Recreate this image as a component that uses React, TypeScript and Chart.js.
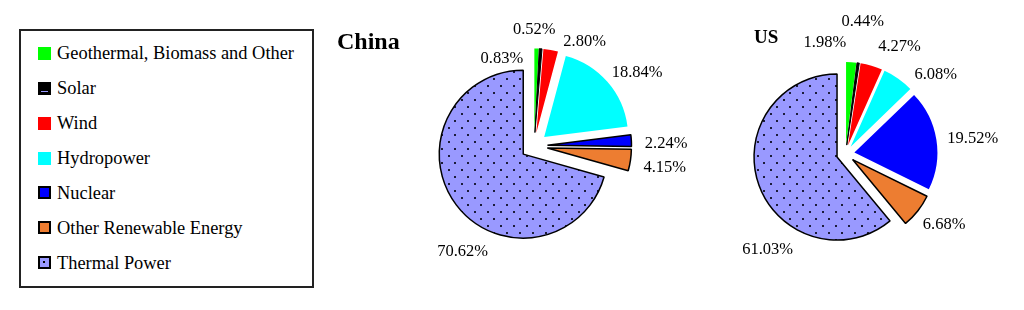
import React, { useEffect, useRef } from 'react';
import { Chart, registerables } from 'chart.js';

Chart.register(...registerables);

// ---------- data ----------
const categories = [
  'Geothermal, Biomass and Other',
  'Solar',
  'Wind',
  'Hydropower',
  'Nuclear',
  'Other Renewable Energy',
  'Thermal Power',
];
const chinaShares = [0.83, 0.52, 2.8, 18.84, 2.24, 4.15, 70.62];
const usShares = [1.98, 0.44, 4.27, 6.08, 19.52, 6.68, 61.03];
const chinaTitle = 'China';
const usTitle = 'US';

// ---------- styles ----------
const sliceColors = ['#00FF00', '#000000', '#FF0000', '#00FFFF', '#0000FF', '#ED7D31'];
const thermalColor = '#9999FF';
const chinaBorderWidths = [0, 1, 0, 0, 1.5, 1.5, 1.5];
const usBorderWidths = [0, 1, 0, 0, 0, 1.5, 1.5];
// label adjustments (px) relative to the automatic outside-end placement
const chinaLabelNudges = [[-36, 23.5], [-10, -6], [25, 5], [-2.5, 1], [4.5, 3], [4, 3], [39, 35]];
const usLabelNudges = [[-29.5, -6], [-2.5, -28], [13.5, -6], [11, 7.5], [2, 1], [-2, 1.5], [42.5, 56.5]];

const SERIF = '"Liberation Serif", "Times New Roman", serif';

function makeDotPattern(): any {
  const c = document.createElement('canvas');
  c.width = 13;
  c.height = 14;
  const g = c.getContext('2d');
  if (!g) return thermalColor;
  g.fillStyle = thermalColor;
  g.fillRect(0, 0, 13, 14);
  g.fillStyle = '#1c1c3a';
  g.fillRect(1, 1, 2, 2);
  g.fillRect(7, 8, 2, 2);
  return g.createPattern(c, 'repeat') || thermalColor;
}

const explodePlugin = {
  id: 'explode',
  beforeDatasetsDraw(chart: any, _a: any, opts: any) {
    const meta = chart.getDatasetMeta(0);
    const d = opts.distance || 0;
    meta.data.forEach((arc: any) => {
      const mid = (arc.startAngle + arc.endAngle) / 2;
      arc.$base = [arc.x, arc.y];
      arc.x += Math.cos(mid) * d;
      arc.y += Math.sin(mid) * d;
    });
  },
  afterDatasetsDraw(chart: any) {
    const meta = chart.getDatasetMeta(0);
    meta.data.forEach((arc: any) => {
      if (arc.$base) {
        arc.x = arc.$base[0];
        arc.y = arc.$base[1];
        delete arc.$base;
      }
    });
  },
};

const sliceLabelPlugin = {
  id: 'sliceLabels',
  afterDraw(chart: any, _a: any, opts: any) {
    const ctx = chart.ctx;
    const meta = chart.getDatasetMeta(0);
    const values = chart.data.datasets[0].data;
    const fs = opts.fontSize;
    ctx.save();
    ctx.font = `${fs}px ${SERIF}`;
    ctx.fillStyle = '#000';
    ctx.textAlign = 'center';
    ctx.textBaseline = 'alphabetic';
    const h = fs * 0.676;
    const clamp = (v: number) => Math.max(-1, Math.min(1, 2 * v));
    meta.data.forEach((arc: any, i: number) => {
      const text = Number(values[i]).toFixed(2) + '%';
      const w = ctx.measureText(text).width;
      const mid = (arc.startAngle + arc.endAngle) / 2;
      const ux = Math.cos(mid);
      const uy = Math.sin(mid);
      const dist = arc.outerRadius + opts.explode + opts.gap;
      const n = opts.nudges[i] || [0, 0];
      const cx = arc.x + ux * dist + (w / 2) * clamp(ux) + n[0];
      const cy = arc.y + uy * dist + (h / 2) * clamp(uy) + n[1];
      ctx.fillText(text, cx, cy + h / 2);
    });
    // title
    ctx.font = `bold ${opts.titleSize}px ${SERIF}`;
    ctx.textAlign = 'left';
    ctx.fillText(opts.title, opts.titleX, opts.titleY);
    ctx.restore();
  },
};

type PieProps = {
  values: number[];
  title: string;
  left: number;
  width: number;
  height: number;
  padding: { left: number; right: number; top: number; bottom: number };
  radius: number;
  explode: number;
  borderWidths: number[];
  nudges: number[][];
  titleX: number;
  titleY: number;
  titleSize: number;
};

function Pie(p: PieProps) {
  const ref = useRef<HTMLCanvasElement | null>(null);
  useEffect(() => {
    if (!ref.current) return;
    const pattern = makeDotPattern();
    const chart = new Chart(ref.current, {
      type: 'pie',
      data: {
        labels: categories,
        datasets: [
          {
            data: p.values,
            backgroundColor: [...sliceColors, pattern],
            borderColor: '#000000',
            borderWidth: p.borderWidths,
            hoverOffset: 0,
            offset: 0,
          } as any,
        ],
      },
      options: {
        responsive: false,
        maintainAspectRatio: false,
        animation: false,
        events: [],
        radius: p.radius,
        layout: { padding: p.padding },
        plugins: {
          legend: { display: false },
          tooltip: { enabled: false },
          title: { display: false },
          explode: { distance: p.explode },
          sliceLabels: {
            fontSize: 16.5,
            explode: p.explode,
            gap: 9,
            nudges: p.nudges,
            title: p.title,
            titleX: p.titleX,
            titleY: p.titleY,
            titleSize: p.titleSize,
          },
        } as any,
      } as any,
      plugins: [explodePlugin, sliceLabelPlugin],
    });
    return () => chart.destroy();
  }, []);
  return (
    <canvas
      ref={ref}
      width={p.width}
      height={p.height}
      style={{ position: 'absolute', left: p.left, top: 0, width: p.width, height: p.height }}
    />
  );
}

const swatchStyles: React.CSSProperties[] = [
  { background: '#00FF00' },
  { background: '#000000', border: '2px solid #000' },
  { background: '#FF0000' },
  { background: '#00FFFF' },
  { background: '#0000FF', border: '2px solid #000' },
  { background: '#ED7D31', border: '2px solid #000' },
  { background: thermalColor, border: '2px solid #000' },
];

function Legend() {
  const boxLeft = 19;
  const boxTop = 29;
  return (
    <div
      style={{
        position: 'absolute',
        left: boxLeft,
        top: boxTop,
        width: 295,
        height: 259,
        boxSizing: 'border-box',
        border: '2px solid #222',
        background: '#fff',
      }}
    >
      {categories.map((c, i) => {
        const cy = 53.3 + i * 34.9 - boxTop - 2;
        return (
          <React.Fragment key={c}>
            <div
              style={{
                position: 'absolute',
                left: 38 - boxLeft - 2,
                top: cy - 6.5,
                width: 13,
                height: 13,
                boxSizing: 'border-box',
                ...swatchStyles[i],
              }}
            >
              {i === 1 ? (
                <div style={{ position: 'absolute', left: 1, top: 7, width: 7, height: 1, background: thermalColor }} />
              ) : null}
              {i === 6 ? (
                <div style={{ position: 'absolute', left: 3, top: 3, width: 2, height: 2, background: '#000' }} />
              ) : null}
            </div>
            <div
              style={{
                position: 'absolute',
                left: 57 - boxLeft - 2,
                top: cy - 10,
                font: `18.4px ${SERIF}`,
                lineHeight: '20px',
                whiteSpace: 'nowrap',
                color: '#000',
              }}
            >
              {c}
            </div>
          </React.Fragment>
        );
      })}
    </div>
  );
}

export default function App() {
  return (
    <div style={{ position: 'fixed', left: 0, top: 0, width: 1024, height: 310, background: '#fff', overflow: 'hidden' }}>
      <Legend />
      <Pie
        values={chinaShares}
        title={chinaTitle}
        left={330}
        width={400}
        height={300}
        padding={{ left: 8, right: 0, top: 0, bottom: 8 }}
        radius={84}
        explode={13.5}
        borderWidths={chinaBorderWidths}
        nudges={chinaLabelNudges}
        titleX={7}
        titleY={49}
        titleSize={24}
      />
      <Pie
        values={usShares}
        title={usTitle}
        left={730}
        width={294}
        height={310}
        padding={{ left: 0, right: 63, top: 0, bottom: 2 }}
        radius={83}
        explode={9}
        borderWidths={usBorderWidths}
        nudges={usLabelNudges}
        titleX={24}
        titleY={43}
        titleSize={19}
      />
    </div>
  );
}
